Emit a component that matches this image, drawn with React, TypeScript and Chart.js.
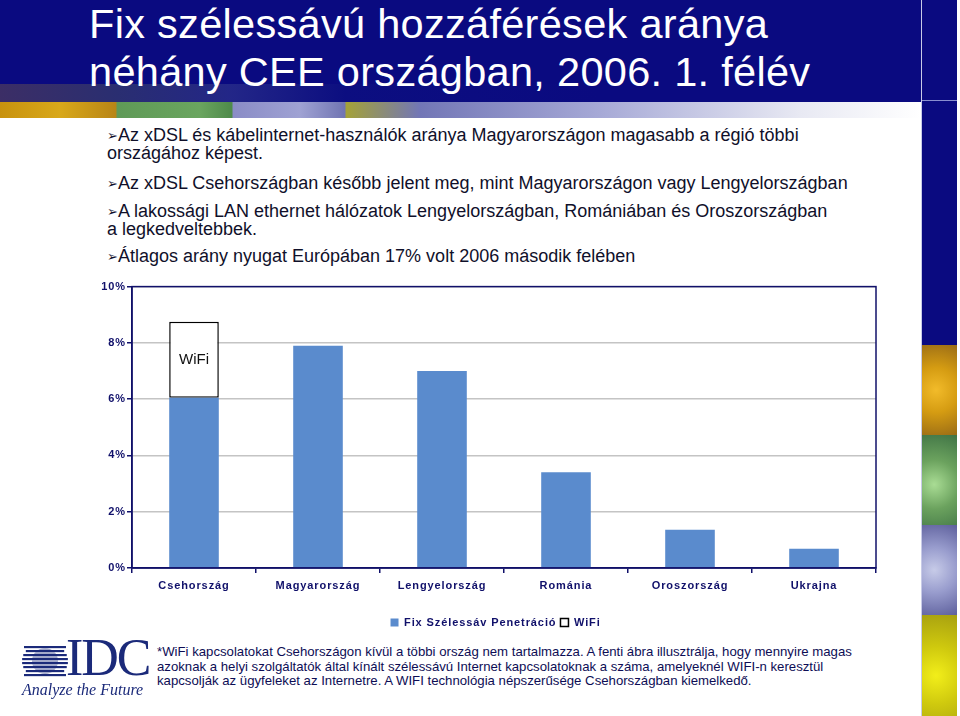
import React, { useEffect, useRef } from "react";
import { Chart, registerables } from "chart.js";

Chart.register(...registerables);

const categories = ["Csehország", "Magyarország", "Lengyelország", "Románia", "Oroszország", "Ukrajna"];
const fixPenetration = [6.05, 7.9, 7.0, 3.4, 1.36, 0.68];
const wifiPenetration = [2.7, null, null, null, null, null];
const yTicks = [0, 2, 4, 6, 8, 10];
const seriesNames = ["Fix Szélessáv Penetráció", "WiFi"];

const titleLines = ["Fix szélessávú hozzáférések aránya", "néhány CEE országban, 2006. 1. félév"];
const bullets = [
  ["Az xDSL és kábelinternet-használók aránya Magyarországon magasabb a régió többi", "országához képest."],
  ["Az xDSL Csehországban később jelent meg, mint Magyarországon vagy Lengyelországban"],
  ["A lakossági LAN ethernet hálózatok Lengyelországban, Romániában és Oroszországban", "a legkedveltebbek."],
  ["Átlagos arány nyugat Európában 17% volt 2006 második felében"],
];
const footnote = [
  "*WiFi kapcsolatokat Csehországon kívül a többi ország nem tartalmazza. A fenti ábra illusztrálja, hogy mennyire magas",
  "azoknak a helyi szolgáltatók által kínált szélessávú Internet kapcsolatoknak a száma, amelyeknél WIFI-n keresztül",
  "kapcsolják az ügyfeleket az Internetre.  A WIFI technológia népszerűsége Csehországban kiemelkedő.",
];

const NAVY = "#0a0a80";
const AXIS = "#10106a";
const BAR = "#5a8bcd";

const spacingPlugin = {
  id: "spacing",
  beforeDraw(chart: any) {
    chart.ctx.letterSpacing = "0.9px";
  },
  afterDraw(chart: any) {
    const { ctx, chartArea } = chart;
    ctx.save();
    ctx.strokeStyle = AXIS;
    ctx.lineWidth = 1.5;
    ctx.strokeRect(chartArea.left, chartArea.top, chartArea.right - chartArea.left, chartArea.bottom - chartArea.top);
    ctx.restore();
  },
  afterDatasetsDraw(chart: any) {
    const meta = chart.getDatasetMeta(1);
    const el: any = meta.data[0];
    if (!el) return;
    const ctx = chart.ctx;
    ctx.save();
    ctx.letterSpacing = "0px";
    ctx.font = "15px 'Liberation Sans', Arial, sans-serif";
    ctx.fillStyle = "#111";
    ctx.textAlign = "center";
    ctx.textBaseline = "middle";
    ctx.fillText(seriesNames[1], el.x, (el.y + el.base) / 2);
    ctx.restore();
  },
};

function BarChart() {
  const ref = useRef<HTMLCanvasElement>(null);
  useEffect(() => {
    if (!ref.current) return;
    const chart = new Chart(ref.current, {
      type: "bar",
      data: {
        labels: categories,
        datasets: [
          {
            label: seriesNames[0],
            data: fixPenetration,
            backgroundColor: BAR,
            borderWidth: 0,
            barPercentage: 0.4,
            categoryPercentage: 1,
            stack: "s",
          },
          {
            label: seriesNames[1],
            data: wifiPenetration as any,
            backgroundColor: "#ffffff",
            borderColor: "#000000",
            borderWidth: 1.5,
            borderSkipped: false,
            barPercentage: 0.4,
            categoryPercentage: 1,
            stack: "s",
          },
        ],
      },
      options: {
        animation: false,
        responsive: false,
        maintainAspectRatio: false,
        layout: { padding: { top: 4, right: 2, left: 0, bottom: 0 } },
        plugins: {
          tooltip: { enabled: false },
          legend: {
            position: "bottom",
            labels: {
              boxWidth: 8,
              boxHeight: 8,
              padding: 4,
              color: AXIS,
              font: { family: "'Liberation Sans', Arial, sans-serif", size: 11, weight: "bold" },
            },
          },
        },
        scales: {
          x: {
            stacked: true,
            grid: { offset: true, drawOnChartArea: false, drawTicks: true, tickLength: 5, tickColor: AXIS, lineWidth: 1.5 },
            border: { color: AXIS, width: 1.5 },
            ticks: {
              color: AXIS,
              padding: 6,
              font: { family: "'Liberation Sans', Arial, sans-serif", size: 11, weight: "bold" },
            },
            afterFit(scale: any) {
              scale.height = 45;
            },
          },
          y: {
            stacked: true,
            min: 0,
            max: 10,
            afterBuildTicks(scale: any) {
              scale.ticks = yTicks.map((v) => ({ value: v }));
            },
            grid: { color: "#c4c4c4", lineWidth: 1.5, drawTicks: true, tickLength: 5, tickColor: AXIS },
            border: { color: AXIS, width: 1.5 },
            ticks: {
              color: AXIS,
              padding: 1,
              font: { family: "'Liberation Sans', Arial, sans-serif", size: 11, weight: "bold" },
              callback: (v: any) => v + "%",
            },
            afterFit(scale: any) {
              scale.width = 42;
            },
          },
        },
      },
      plugins: [spacingPlugin],
    });
    return () => chart.destroy();
  }, []);
  return (
    <canvas
      ref={ref}
      width={788}
      height={359}
      style={{ position: "absolute", left: 90, top: 279, width: 788, height: 359 }}
    />
  );
}

function IdcLogo() {
  const stripes = [0, 1, 2, 3, 4, 5, 6, 7];
  return (
    <div style={{ position: "absolute", left: 20, top: 641, width: 136, height: 62 }}>
      <svg width={46} height={34} style={{ position: "absolute", left: 2, top: 3 }}>
        {stripes.map((i) => {
          const y = 2 + i * 4;
          const r = 15;
          const dy = y + 1 - 17;
          const half = Math.sqrt(Math.max(0, r * r - dy * dy));
          return <rect key={i} x={i === 0 || i === 7 ? 2 : 23 - half - 8} y={y} width={i === 0 || i === 7 ? 42 : half * 2 + 16} height={2.4} fill="#1b2a7a" />;
        })}
        <circle cx={23} cy={17} r={13} fill="#1b2a7a" />
        {stripes.map((i) => (
          <rect key={"w" + i} x={0} y={4.4 + i * 4} width={46} height={1.2} fill="#ffffff" />
        ))}
      </svg>
      <div
        style={{
          position: "absolute",
          left: 46,
          top: -9,
          fontFamily: "'Liberation Serif', 'Times New Roman', serif",
          fontSize: 52,
          color: "#1b2a7a",
          lineHeight: "52px",
          letterSpacing: -2,
        }}
      >
        IDC
      </div>
      <div
        style={{
          position: "absolute",
          left: 2,
          top: 40,
          fontFamily: "'Liberation Serif', 'Times New Roman', serif",
          fontStyle: "italic",
          fontSize: 16,
          color: "#1b2a7a",
          whiteSpace: "nowrap",
        }}
      >
        Analyze the Future
      </div>
    </div>
  );
}

export default function App() {
  const sans = "'Liberation Sans', Arial, sans-serif";
  const bulletTops = [127, 175, 203, 248];
  return (
    <div style={{ position: "absolute", left: 0, top: 0, width: 960, height: 716, background: "#ffffff", overflow: "hidden", fontFamily: sans }}>
      {/* title band */}
      <div style={{ position: "absolute", left: 0, top: 0, width: 921, height: 102, background: NAVY }} />
      <div
        style={{
          position: "absolute",
          left: 0,
          top: 84,
          width: 921,
          height: 18,
          background:
            "linear-gradient(to right, rgba(120,90,70,0.45) 0px, rgba(90,100,90,0.4) 117px, rgba(80,90,150,0.35) 232px, rgba(20,30,130,0.2) 345px, rgba(10,10,128,0) 600px)",
        }}
      />
      <div
        style={{
          position: "absolute",
          left: 0,
          top: 102,
          width: 921,
          height: 16,
          background:
            "linear-gradient(to right, #c8920e 0px, #d8a81a 60px, #b88516 116px, #5f9a57 117px, #6aa55f 200px, #4e8a4a 232px, #8a8cc6 233px, #9fa2d3 300px, #7074b2 345px, #a4a238 346px, #7276b6 420px, #a6a9d6 600px, #e8e9f3 800px, #ffffff 921px)",
        }}
      />
      {/* right strip */}
      <div style={{ position: "absolute", left: 921, top: 0, width: 1, height: 716, background: "#c8cbe8" }} />
      <div style={{ position: "absolute", left: 922, top: 0, width: 35, height: 345, background: NAVY }} />
      <div style={{ position: "absolute", left: 922, top: 100, width: 35, height: 1, background: "#8a8fd0" }} />
      <div style={{ position: "absolute", left: 922, top: 345, width: 35, height: 90, background: "radial-gradient(circle at 40% 50%, #f2bb2a 0%, #d59c12 45%, #9a6c16 100%)" }} />
      <div style={{ position: "absolute", left: 922, top: 435, width: 35, height: 90, background: "radial-gradient(circle at 35% 55%, #a9dc94 0%, #6ba25e 45%, #3f7345 100%)" }} />
      <div style={{ position: "absolute", left: 922, top: 525, width: 35, height: 90, background: "radial-gradient(circle at 35% 50%, #c7cbe8 0%, #989ccd 45%, #5d5f9c 100%)" }} />
      <div style={{ position: "absolute", left: 922, top: 615, width: 35, height: 101, background: "radial-gradient(circle at 40% 60%, #f2ee1a 0%, #cfc90e 45%, #a7a010 100%)" }} />

      {/* title */}
      {titleLines.map((t, i) => (
        <div
          key={i}
          style={{
            position: "absolute",
            left: 89,
            top: 0 + i * 48,
            fontFamily: sans,
            fontSize: 41.5,
            lineHeight: "48px",
            color: "#ffffff",
            whiteSpace: "nowrap",
            letterSpacing: 0.3,
          }}
        >
          {t}
        </div>
      ))}

      {/* bullets */}
      {bullets.map((b, i) => (
        <div key={i} style={{ position: "absolute", left: 107, top: bulletTops[i], color: "#10102a", fontSize: 18, lineHeight: "17px", whiteSpace: "nowrap", fontFamily: sans }}>
          <span style={{ fontFamily: "'DejaVu Sans', sans-serif", fontSize: 13, position: "relative", top: -1 }}>➢</span>
          {b[0]}
          {b[1] ? (
            <>
              <br />
              {b[1]}
            </>
          ) : null}
        </div>
      ))}

      <BarChart />

      {/* footnote */}
      {footnote.map((t, i) => (
        <div
          key={i}
          style={{
            position: "absolute",
            left: 157,
            top: 644 + i * 14.5,
            fontSize: 13.2,
            lineHeight: "15px",
            color: "#0d0d55",
            whiteSpace: "nowrap",
            fontFamily: sans,
          }}
        >
          {t}
        </div>
      ))}
      <IdcLogo />
    </div>
  );
}
